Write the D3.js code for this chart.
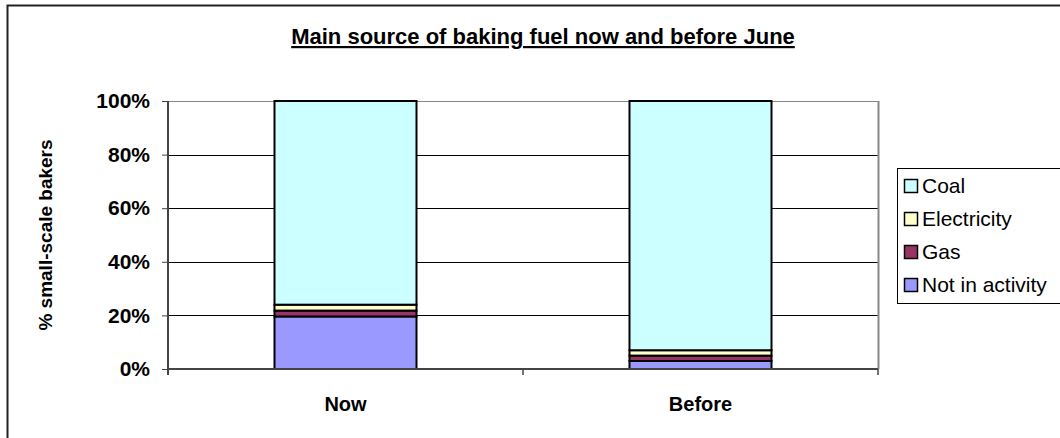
<!DOCTYPE html>
<html>
<head>
<meta charset="utf-8">
<script src="https://cdn.jsdelivr.net/npm/d3@7"></script>
<style>
  body { margin: 0; background: #fff; }
  text { font-family: 'Liberation Sans', Arial, sans-serif; }
</style>
</head>
<body>
<div id="chart"></div>
<script>
// data
const categories = ['Now', 'Before'];
const seriesNames = ['Not in activity', 'Gas', 'Electricity', 'Coal'];
const seriesColors = ['#9999ff', '#993366', '#ffffcc', '#ccffff'];
const notInActivity = [19.6, 3.0];
const gas = [2.2, 2.0];
const electricity = [2.2, 2.0];
const coal = [76.0, 93.0];
const yTicks = [0, 20, 40, 60, 80, 100];

const width = 1060;
const height = 438;
const margin = { top: 101, right: 182, bottom: 69, left: 168 }; // plot area inside the chart frame
const font = "'Liberation Sans', Arial, sans-serif";

const svg = d3.select('#chart').append('svg')
  .attr('width', width)
  .attr('height', height);

// outer chart frame (runs off the right/bottom like the original)
svg.append('rect')
  .attr('x', 7.5).attr('y', 5.5)
  .attr('width', 1060).attr('height', 440)
  .attr('fill', '#fff').attr('stroke', '#222').attr('stroke-width', 2);

const xScale = d3.scaleBand()
  .domain(categories)
  .range([margin.left, width - margin.right])
  .paddingInner(0.6)
  .paddingOuter(0.3);

const yScale = d3.scaleLinear()
  .domain([0, 100])
  .range([height - margin.bottom, margin.top]);

// gridlines
svg.append('g')
  .selectAll('line')
  .data(yTicks.filter(d => d > 0))
  .join('line')
  .attr('x1', margin.left).attr('x2', width - margin.right)
  .attr('y1', d => Math.round(yScale(d)) + 0.5)
  .attr('y2', d => Math.round(yScale(d)) + 0.5)
  .attr('stroke', d => d === 100 ? '#888' : '#000')
  .attr('stroke-width', 1);

// plot area right edge
svg.append('line')
  .attr('x1', width - margin.right + 0.5).attr('x2', width - margin.right + 0.5)
  .attr('y1', margin.top).attr('y2', height - margin.bottom)
  .attr('stroke', '#888').attr('stroke-width', 2);

// stacked bars
const rows = categories.map((c, i) => ({
  category: c,
  'Not in activity': notInActivity[i],
  'Gas': gas[i],
  'Electricity': electricity[i],
  'Coal': coal[i],
}));
const stacked = d3.stack().keys(seriesNames)(rows);

svg.append('g')
  .selectAll('g')
  .data(stacked)
  .join('g')
  .attr('fill', (d, i) => seriesColors[i])
  .selectAll('rect')
  .data(d => d)
  .join('rect')
  .attr('x', d => xScale(d.data.category))
  .attr('y', d => yScale(d[1]))
  .attr('width', xScale.bandwidth())
  .attr('height', d => yScale(d[0]) - yScale(d[1]))
  .attr('stroke', '#000')
  .attr('stroke-width', 2);

// y axis
const yAxis = d3.axisLeft(yScale)
  .tickValues(yTicks)
  .tickFormat(d => d + '%')
  .tickSize(6)
  .tickPadding(12);

const gy = svg.append('g')
  .attr('transform', `translate(${margin.left},0)`)
  .call(yAxis);
gy.select('.domain').attr('stroke', '#444').attr('stroke-width', 2)
  .attr('d', `M0,${margin.top}V${height - margin.bottom + 6}`);
gy.selectAll('.tick line').attr('stroke', '#444');
gy.selectAll('.tick text')
  .attr('font-size', 21).attr('font-weight', 'bold').attr('fill', '#000')
  .style('font-family', font);

// x axis
const xAxis = d3.axisBottom(xScale).tickSize(0).tickPadding(28);
const gx = svg.append('g')
  .attr('transform', `translate(0,${height - margin.bottom})`)
  .call(xAxis);
gx.select('.domain').attr('stroke', '#444').attr('stroke-width', 2)
  .attr('d', `M${margin.left},0H${width - margin.right}`);
gx.selectAll('.tick text')
  .attr('font-size', 20).attr('font-weight', 'bold').attr('fill', '#000')
  .style('font-family', font);

// x axis tick marks at category boundaries
const boundaries = [margin.left, margin.left + (width - margin.left - margin.right) / 2, width - margin.right];
svg.append('g')
  .selectAll('line')
  .data(boundaries)
  .join('line')
  .attr('x1', d => d).attr('x2', d => d)
  .attr('y1', height - margin.bottom).attr('y2', height - margin.bottom + 6)
  .attr('stroke', '#444').attr('stroke-width', 1.5);

// title
svg.append('text')
  .attr('x', 543).attr('y', 44)
  .attr('text-anchor', 'middle')
  .attr('font-size', 22).attr('font-weight', 'bold')
  .attr('text-decoration', 'underline')
  .text('Main source of baking fuel now and before June');

// y axis title
svg.append('text')
  .attr('transform', `translate(52,${(margin.top + height - margin.bottom) / 2}) rotate(-90)`)
  .attr('text-anchor', 'middle')
  .attr('font-size', 19).attr('font-weight', 'bold')
  .text('% small-scale bakers');

// legend
const legend = svg.append('g').attr('transform', 'translate(897,168)');
legend.append('rect')
  .attr('x', 0.5).attr('y', 0.5)
  .attr('width', 200).attr('height', 135)
  .attr('fill', '#fff').attr('stroke', '#000').attr('stroke-width', 1);

const legendOrder = seriesNames.slice().reverse();
const legendItems = legend.selectAll('g.item')
  .data(legendOrder)
  .join('g')
  .attr('class', 'item')
  .attr('transform', (d, i) => `translate(7,${18 + i * 33})`);

legendItems.append('rect')
  .attr('x', 0.5).attr('y', -6.5)
  .attr('width', 13).attr('height', 13)
  .attr('fill', d => seriesColors[seriesNames.indexOf(d)])
  .attr('stroke', '#000').attr('stroke-width', 1.5);

legendItems.append('text')
  .attr('x', 18).attr('y', 0)
  .attr('dy', '0.35em')
  .attr('font-size', 21)
  .text(d => d);
</script>
</body>
</html>
